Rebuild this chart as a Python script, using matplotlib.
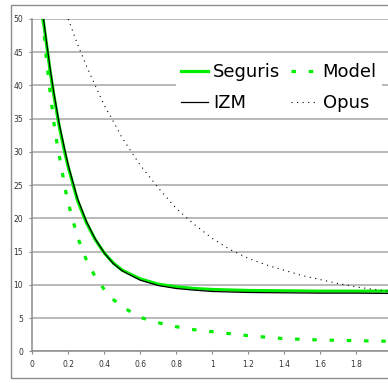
import numpy as np
import matplotlib
matplotlib.use("Agg")
import matplotlib.pyplot as plt
from matplotlib.patches import Rectangle

## Data
seg_x = [0.05, 0.06, 0.08, 0.1, 0.12, 0.15, 0.18, 0.2, 0.25, 0.3, 0.35, 0.4, 0.45,
         0.5, 0.6, 0.7, 0.8, 0.9, 1.0, 1.2, 1.4, 1.6, 1.8, 2.0]
seguris = [52.0, 50.0, 46.0, 42.0, 38.5, 33.8, 30.0, 27.7, 22.8, 19.4, 16.8, 14.8, 13.3,
           12.2, 10.9, 10.1, 9.7, 9.45, 9.3, 9.15, 9.1, 9.05, 9.05, 9.05]
izm = [52.5, 50.5, 46.4, 42.4, 38.9, 34.2, 30.4, 28.0, 23.1, 19.6, 16.9, 14.8, 13.2,
       12.1, 10.7, 9.9, 9.45, 9.2, 9.0, 8.85, 8.8, 8.75, 8.75, 8.7]

model_x = [0.06, 0.07, 0.08, 0.09, 0.1, 0.12, 0.14, 0.16, 0.18, 0.2, 0.25, 0.3, 0.35,
           0.4, 0.45, 0.5, 0.6, 0.7, 0.8, 0.9, 1.0, 1.2, 1.4, 1.6, 1.8, 2.0]
model = [50.0, 46.2, 43.6, 41.2, 38.8, 34.4, 30.8, 28.0, 24.8, 22.3, 17.3, 13.8, 11.2,
         9.3, 7.8, 6.7, 5.1, 4.3, 3.7, 3.25, 2.95, 2.35, 1.9, 1.7, 1.6, 1.5]

opus_x = [0.2, 0.25, 0.3, 0.35, 0.4, 0.45, 0.5, 0.6, 0.7, 0.8, 0.9, 1.0, 1.1, 1.2,
          1.3, 1.4, 1.5, 1.6, 1.7, 1.8, 1.9, 2.0]
opus = [50.0, 46.3, 43.0, 40.0, 37.0, 34.6, 32.1, 28.0, 24.6, 21.5, 19.1, 17.0, 15.3,
        14.0, 13.0, 12.2, 11.4, 10.8, 10.2, 9.7, 9.3, 9.0]

xticks = [0, 0.2, 0.4, 0.6, 0.8, 1, 1.2, 1.4, 1.6, 1.8, 2]
xlabels = ["0", "0.2", "0.4", "0.6", "0.8", "1", "1.2", "1.4", "1.6", "1.8", "2"]
yticks = [0, 5, 10, 15, 20, 25, 30, 35, 40, 45, 50]

W, H = 388, 383
fig = plt.figure(figsize=(W / 100, H / 100), dpi=100)

## Outer chart border
fig.patches.append(Rectangle((11 / W, 5.3 / H), 1.2, (377.7 - 5) / H,
                             transform=fig.transFigure, fill=False,
                             edgecolor="#8c8c8c", linewidth=1.0))

ax = fig.add_axes([32.3 / W, 31.7 / H, (392 - 32.3) / W, (351.3 - 19) / H])

ax.plot(seg_x, seguris, color="#00ee00", lw=2.3, label="Seguris", zorder=3)
ax.plot(model_x, model, color="#00ee00", lw=2.3, dashes=(1.4, 4.0), label="Model", zorder=3)
ax.plot(seg_x, izm, color="black", lw=0.9, label="IZM", zorder=4)
ax.plot(opus_x, opus, color="black", lw=0.8, dashes=(1.0, 4.0), label="Opus", zorder=4)

ax.set_xlim(0, 2)
ax.set_ylim(0, 50)
ax.set_xticks(xticks)
ax.set_xticklabels(xlabels)
ax.set_yticks(yticks)
ax.tick_params(labelsize=5.5, length=2.5, color="#8c8c8c", labelcolor="#333333", pad=4)
ax.yaxis.grid(True, color="#a6a6a6", lw=1.1)
ax.set_axisbelow(True)
for s in ["top", "right"]:
    ax.spines[s].set_visible(False)
for s in ["left", "bottom"]:
    ax.spines[s].set_color("#8c8c8c")
    ax.spines[s].set_linewidth(1.1)

h, l = ax.get_legend_handles_labels()
order = [0, 2, 1, 3]
leg = fig.legend([h[i] for i in order], [l[i] for i in order], ncol=2,
                 loc="upper left", bbox_to_anchor=(176 / W, 1 - 58 / H),
                 bbox_transform=fig.transFigure, prop={"size": 13},
                 frameon=True, fancybox=False, edgecolor="none", framealpha=1,
                 handlelength=1.45, handletextpad=0.3, columnspacing=0.6,
                 labelspacing=0.7, borderpad=0.3, borderaxespad=0)

fig.savefig("out.png", dpi=100)
